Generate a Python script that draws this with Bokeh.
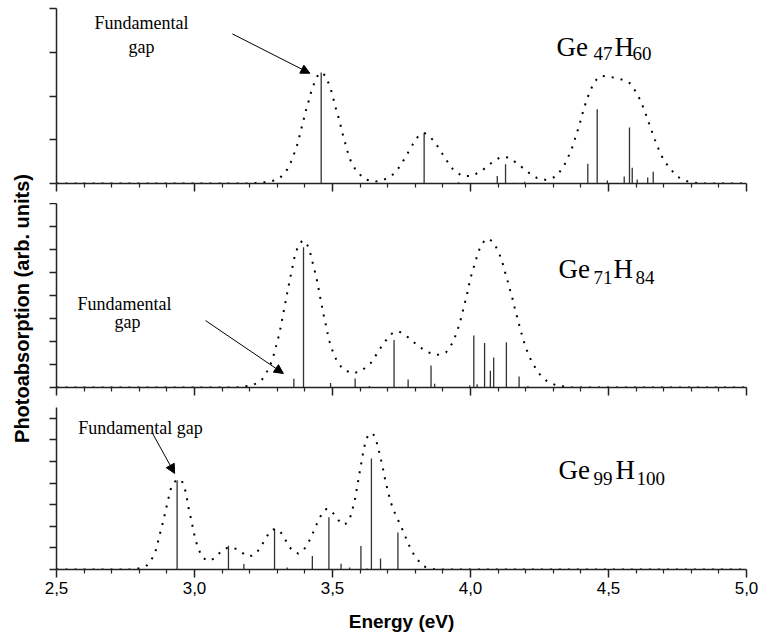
import math
from bokeh.plotting import figure
from bokeh.layouts import row, column
from bokeh.models import Range1d, FixedTicker, Label, Arrow, NormalHead
from bokeh.embed import file_html
from bokeh.resources import INLINE

# ---------------- data ----------------
x_ticks = [2.5, 3.0, 3.5, 4.0, 4.5, 5.0]
x_tick_labels = ["2,5", "3,0", "3,5", "4,0", "4,5", "5,0"]
x_minor_ticks = [2.6, 2.7, 2.8, 2.9, 3.1, 3.2, 3.3, 3.4, 3.6, 3.7, 3.8, 3.9,
                 4.1, 4.2, 4.3, 4.4, 4.6, 4.7, 4.8, 4.9]

# Ge47H60
top_stick_e = [3.459, 3.832, 3.957, 4.097, 4.127, 4.157, 4.196, 4.425, 4.459,
               4.496, 4.557, 4.576, 4.586, 4.604, 4.642, 4.662]
top_stick_h = [2.54, 1.16, 0.03, 0.17, 0.44, 0.02, 0.04, 0.45, 1.70,
               0.07, 0.16, 1.28, 0.36, 0.09, 0.14, 0.27]
top_env_e = [2.50, 3.20, 3.239, 3.275, 3.309, 3.336, 3.353, 3.365, 3.376, 3.384,
             3.393, 3.401, 3.411, 3.420, 3.432, 3.445, 3.459, 3.475, 3.489, 3.500,
             3.508, 3.518, 3.527, 3.535, 3.545, 3.554, 3.565, 3.583, 3.613, 3.647,
             3.681, 3.715, 3.743, 3.764, 3.784, 3.805, 3.820, 3.834, 3.850, 3.868,
             3.891, 3.912, 3.936, 3.969, 4.004, 4.039, 4.071, 4.105, 4.122, 4.140,
             4.173, 4.208, 4.242, 4.275, 4.310, 4.336, 4.353, 4.367, 4.378, 4.389,
             4.399, 4.408, 4.419, 4.431, 4.447, 4.462, 4.478, 4.512, 4.546, 4.565,
             4.580, 4.603, 4.619, 4.632, 4.644, 4.656, 4.668, 4.682, 4.698, 4.720,
             4.751, 4.786, 4.83, 5.0]
top_env_y = [0.0, 0.0, 0.02, 0.04, 0.12, 0.32, 0.54, 0.75, 0.96, 1.18,
             1.39, 1.61, 1.82, 2.04, 2.26, 2.45, 2.54, 2.46, 2.24, 2.03,
             1.81, 1.59, 1.39, 1.17, 0.95, 0.74, 0.53, 0.32, 0.11, 0.04,
             0.07, 0.18, 0.38, 0.60, 0.82, 1.04, 1.13, 1.15, 1.08, 0.97,
             0.75, 0.54, 0.33, 0.17, 0.17, 0.28, 0.45, 0.59, 0.61, 0.59,
             0.44, 0.26, 0.12, 0.08, 0.16, 0.37, 0.59, 0.80, 1.01, 1.23,
             1.44, 1.65, 1.87, 2.08, 2.30, 2.42, 2.46, 2.43, 2.38, 2.34,
             2.28, 2.06, 1.85, 1.64, 1.42, 1.21, 1.00, 0.78, 0.56, 0.36,
             0.15, 0.05, 0.0, 0.0]

# Ge71H84
mid_stick_e = [3.360, 3.395, 3.493, 3.582, 3.634, 3.723, 3.774, 3.857, 3.870,
               3.997, 4.012, 4.024, 4.051, 4.072, 4.084, 4.130, 4.176, 4.208]
mid_stick_h = [0.38, 6.10, 0.20, 0.39, 0.06, 2.07, 0.35, 0.96, 0.16,
               0.09, 2.26, 0.14, 1.94, 0.73, 1.30, 1.97, 0.48, 0.06]
mid_env_e = [2.50, 3.15, 3.209, 3.242, 3.263, 3.279, 3.289, 3.298, 3.307, 3.314,
             3.320, 3.327, 3.333, 3.340, 3.347, 3.354, 3.361, 3.371, 3.380, 3.392,
             3.404, 3.413, 3.423, 3.431, 3.440, 3.447, 3.453, 3.460, 3.466, 3.474,
             3.481, 3.489, 3.500, 3.514, 3.537, 3.572, 3.605, 3.639, 3.662, 3.684,
             3.709, 3.725, 3.742, 3.777, 3.811, 3.844, 3.877, 3.911, 3.935, 3.949,
             3.960, 3.969, 3.977, 3.986, 3.993, 4.001, 4.011, 4.021, 4.033, 4.052,
             4.068, 4.083, 4.101, 4.114, 4.123, 4.133, 4.142, 4.152, 4.160, 4.169,
             4.178, 4.187, 4.198, 4.210, 4.226, 4.247, 4.278, 4.312, 4.36, 5.0]
mid_env_y = [0.0, 0.0, 0.09, 0.29, 0.70, 1.10, 1.49, 1.90, 2.32, 2.72,
             3.13, 3.54, 3.94, 4.36, 4.77, 5.17, 5.60, 6.00, 6.25, 6.39,
             6.30, 6.10, 5.70, 5.27, 4.87, 4.47, 4.06, 3.65, 3.25, 2.84,
             2.42, 2.01, 1.60, 1.20, 0.80, 0.61, 0.72, 1.07, 1.49, 1.90,
             2.29, 2.42, 2.43, 2.16, 1.80, 1.54, 1.41, 1.52, 1.94, 2.35,
             2.75, 3.16, 3.57, 3.97, 4.38, 4.80, 5.20, 5.61, 6.03, 6.43,
             6.45, 6.32, 5.91, 5.51, 5.10, 4.70, 4.29, 3.87, 3.47, 3.06,
             2.65, 2.25, 1.83, 1.42, 1.03, 0.62, 0.26, 0.09, 0.0, 0.0]

# Ge99H100
bot_stick_e = [2.937, 3.123, 3.179, 3.290, 3.336, 3.427, 3.487, 3.531, 3.562,
               3.603, 3.625, 3.641, 3.674, 3.737]
bot_stick_h = [4.13, 1.10, 0.25, 1.88, 0.09, 0.63, 2.42, 0.27, 0.09,
               1.09, 0.05, 5.14, 0.51, 1.71]
bot_env_e = [2.50, 2.78, 2.810, 2.829, 2.853, 2.864, 2.871, 2.881, 2.889, 2.897,
             2.905, 2.913, 2.924, 2.937, 2.952, 2.961, 2.966, 2.973, 2.979, 2.987,
             2.994, 3.001, 3.011, 3.025, 3.040, 3.056, 3.072, 3.089, 3.105, 3.122,
             3.140, 3.157, 3.175, 3.191, 3.208, 3.224, 3.246, 3.267, 3.282, 3.297,
             3.311, 3.324, 3.344, 3.360, 3.376, 3.392, 3.406, 3.424, 3.438, 3.454,
             3.466, 3.479, 3.494, 3.508, 3.521, 3.533, 3.548, 3.561, 3.571, 3.580,
             3.586, 3.592, 3.598, 3.604, 3.610, 3.617, 3.628, 3.640, 3.652, 3.663,
             3.671, 3.679, 3.686, 3.693, 3.702, 3.710, 3.722, 3.738, 3.754, 3.768,
             3.783, 3.802, 3.831, 3.865, 3.90, 5.0]
bot_env_y = [0.0, 0.0, 0.08, 0.20, 0.64, 1.06, 1.49, 1.94, 2.37, 2.81,
             3.26, 3.69, 4.02, 4.15, 4.15, 3.92, 3.69, 3.26, 2.81, 2.37,
             1.94, 1.51, 1.06, 0.64, 0.45, 0.40, 0.52, 0.74, 0.92, 1.02,
             1.00, 0.93, 0.76, 0.62, 0.64, 0.74, 1.18, 1.63, 1.85, 1.88,
             1.75, 1.49, 1.04, 0.82, 0.74, 0.86, 1.09, 1.53, 1.97, 2.40,
             2.68, 2.81, 2.72, 2.53, 2.30, 2.09, 2.12, 2.28, 2.72, 3.15,
             3.58, 4.02, 4.47, 4.90, 5.34, 5.77, 6.20, 6.32, 6.20, 5.77,
             5.34, 4.90, 4.47, 4.02, 3.58, 3.15, 2.72, 2.28, 1.83, 1.40,
             0.96, 0.53, 0.14, 0.02, 0.0, 0.0]

# ---------------- styling helpers ----------------
AX = "#222222"
SERIF = "Liberation Serif"
SANS = "Liberation Sans"
xr = Range1d(2.5, 5.0)


def hide_labels(axis):
    axis.major_label_text_color = None
    axis.major_label_text_font_size = "1px"
    axis.major_label_standoff = 0


def panel(frame_h, ymax, yticks, border_top, border_bottom, show_labels):
    p = figure(width=18 + 690 + 14, height=border_top + frame_h + border_bottom,
               x_range=xr, y_range=Range1d(0, ymax),
               output_backend="svg", toolbar_location=None,
               min_border_left=18, min_border_right=14,
               min_border_top=border_top, min_border_bottom=border_bottom)
    p.outline_line_color = None
    p.grid.visible = False
    p.background_fill_color = "white"
    p.border_fill_color = "white"

    xa = p.xaxis[0]
    xa.ticker = FixedTicker(ticks=x_ticks, minor_ticks=x_minor_ticks)
    xa.axis_line_color = AX
    xa.axis_line_width = 1.5
    xa.major_tick_line_color = AX
    xa.major_tick_line_width = 1.5
    xa.minor_tick_line_color = AX
    xa.minor_tick_line_width = 1.2
    xa.major_tick_out = 8
    xa.major_tick_in = 0
    xa.minor_tick_out = 4
    xa.minor_tick_in = 0
    if show_labels:
        xa.major_label_overrides = dict(zip(x_ticks, x_tick_labels))
        xa.major_label_text_font = SANS
        xa.major_label_text_font_size = "17px"
        xa.major_label_text_color = "black"
        xa.major_label_standoff = 4
        xa.axis_label = "Energy (eV)"
        xa.axis_label_text_font = SANS
        xa.axis_label_text_font_style = "bold"
        xa.axis_label_text_font_size = "19px"
        xa.axis_label_text_color = "black"
        xa.axis_label_standoff = 14
    else:
        hide_labels(xa)

    ya = p.yaxis[0]
    ya.ticker = FixedTicker(ticks=yticks, minor_ticks=[])
    ya.axis_line_color = AX
    ya.axis_line_width = 1.5
    ya.major_tick_line_color = AX
    ya.major_tick_line_width = 1.5
    ya.major_tick_out = 7
    ya.major_tick_in = 0
    ya.minor_tick_out = 0
    ya.minor_tick_in = 0
    hide_labels(ya)
    return p


def draw(p, se, sh, ee, ey):
    p.segment(x0=se, y0=[0] * len(se), x1=se, y1=sh,
              line_color="#333333", line_width=1.3)
    p.line(ee, ey, line_color="black", line_width=2, line_dash="2 7",
           line_cap="butt")


def title(p, base, sub, parts):
    # parts: (text, x) pairs alternating normal / subscript
    for i, (t, x) in enumerate(parts):
        is_sub = i % 2 == 1
        p.add_layout(Label(x=x, y=sub if is_sub else base, text=t,
                           text_font=SERIF,
                           text_font_size="19px" if is_sub else "27px",
                           text_color="black", text_align="left",
                           text_baseline="alphabetic"))


def note(p, x, y, text):
    p.add_layout(Label(x=x, y=y, text=text, text_font=SERIF,
                       text_font_size="18px", text_color="black",
                       text_align="center", text_baseline="alphabetic"))


def arrow(p, x0, y0, x1, y1):
    p.add_layout(Arrow(end=NormalHead(size=9, fill_color="black",
                                      line_color="black", line_width=1),
                       x_start=x0, y_start=y0, x_end=x1, y_end=y1,
                       line_color="black", line_width=1))


# ---------------- panels ----------------
p1 = panel(175, 4, [0, 1, 2, 3, 4], 8, 20, False)
draw(p1, top_stick_e, top_stick_h, top_env_e, top_env_y)
title(p1, 3.11, 2.97, [("Ge", 4.312), ("47", 4.446), ("H", 4.522), ("60", 4.587)])
note(p1, 2.808, 3.66, "Fundamental")
note(p1, 2.808, 3.12, "gap")
arrow(p1, 3.137, 3.42, 3.418, 2.52)

p2 = panel(184, 8, [0, 1, 2, 3, 4, 5, 6, 7, 8], 0, 20, False)
draw(p2, mid_stick_e, mid_stick_h, mid_env_e, mid_env_y)
title(p2, 5.17, 4.78, [("Ge", 4.319), ("71", 4.446), ("H", 4.518), ("84", 4.598)])
note(p2, 2.746, 3.65, "Fundamental")
note(p2, 2.757, 2.83, "gap")
arrow(p2, 3.040, 2.91, 3.322, 0.61)

p3 = panel(162, 7.5, [0, 1, 2, 3, 4, 5, 6, 7], 0, 66, True)
draw(p3, bot_stick_e, bot_stick_h, bot_env_e, bot_env_y)
title(p3, 4.59, 4.22, [("Ge", 4.319), ("99", 4.446), ("H", 4.525), ("100", 4.601)])
note(p3, 2.804, 6.54, "Fundamental gap")
arrow(p3, 2.848, 6.30, 2.928, 4.45)

# y-axis title column
LH = 8 + 175 + 20 + 184 + 20 + 162 + 66
lf = figure(width=38, height=LH, x_range=Range1d(0, 38), y_range=Range1d(0, LH),
            output_backend="svg", toolbar_location=None, min_border=0,
            x_axis_type=None, y_axis_type=None)
lf.outline_line_color = None
lf.grid.visible = False
lf.add_layout(Label(x=21, y=LH - 308, text="Photoabsorption (arb. units)",
                    angle=math.pi / 2, text_font=SANS, text_font_style="bold",
                    text_font_size="20px", text_color="black",
                    text_align="center", text_baseline="alphabetic"))

layout = row(lf, column(p1, p2, p3))

open("out.html", "w").write(file_html(layout, INLINE))
